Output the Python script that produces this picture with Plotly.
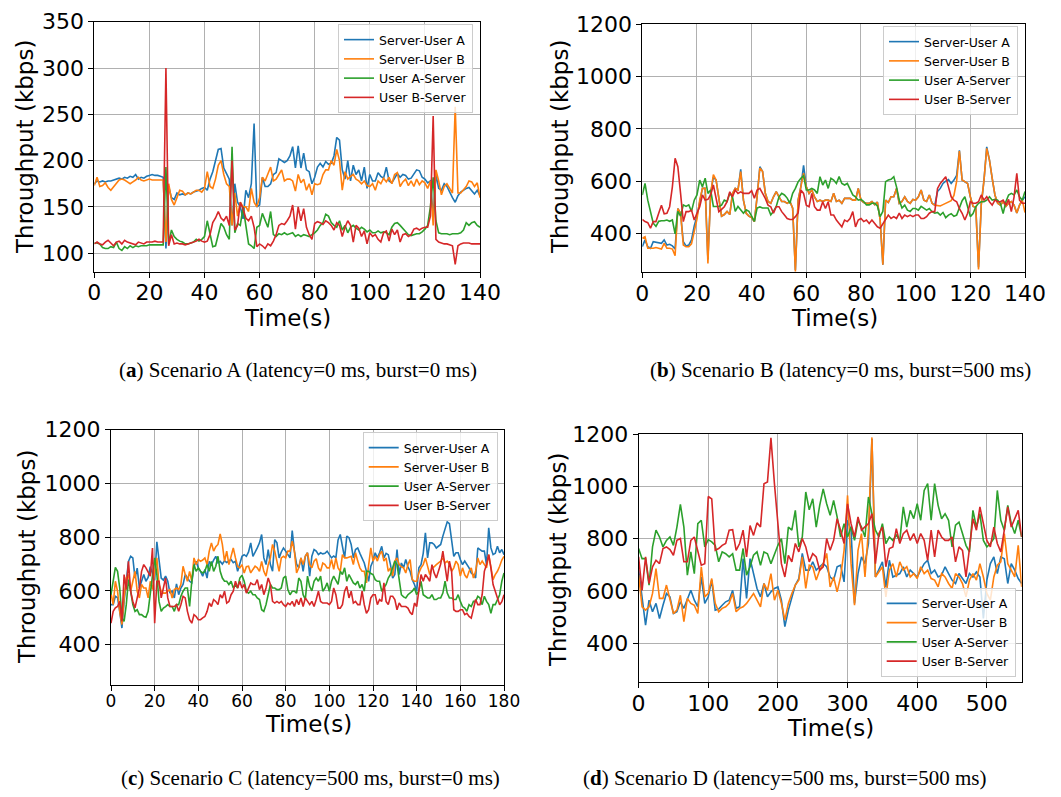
import plotly.graph_objects as go

# ---------------- data ----------------
SERIES_NAMES = ["Server-User A", "Server-User B", "User A-Server", "User B-Server"]
COLORS = ["#1f77b4", "#ff7f0e", "#2ca02c", "#d62728"]

# (a) Scenario A, 1 s samples 0..140
T_A = list(range(0, 141))
A_SUA = [175,178,177,178,177,178,178,179,180,181,
         180,182,181,183,182,185,180,182,181,183,
         184,185,184,184,183,182,105,172,160,158,
         165,163,164,163,165,164,166,167,168,170,
         171,168,180,188,200,212,213,192,186,180,
         130,175,155,150,137,168,160,175,240,150,
         152,182,172,172,175,185,187,202,200,198,
         200,205,215,192,216,192,208,190,188,175,
         182,193,197,193,199,196,197,205,225,222,
         190,180,200,178,195,185,190,178,193,170,
         185,178,178,187,183,181,193,178,176,181,
         186,182,185,184,180,181,186,190,189,182,
         180,176,178,140,185,170,168,175,172,165,
         160,155,162,166,168,170,171,168,164,168,
         162]
A_SUB = [173,182,172,173,176,171,168,172,175,179,
         180,179,177,175,177,179,182,179,178,179,
         180,179,179,179,179,179,112,175,158,152,
         160,168,167,163,165,164,166,168,168,166,
         170,188,172,170,180,195,200,185,175,172,
         130,165,140,155,150,150,145,170,155,150,
         160,182,178,185,193,178,180,185,190,178,
         180,180,178,167,185,176,180,168,175,163,
         175,174,175,185,190,190,200,195,212,200,
         168,188,180,183,185,180,178,175,178,173,
         172,175,168,178,175,181,177,182,175,185,
         187,172,177,180,173,178,172,180,174,178,
         176,170,178,130,190,178,163,172,175,170,
         165,258,165,165,168,172,178,177,172,176,
         160]
A_UAS = [111,111,110,106,105,105,107,106,112,105,
         103,107,105,108,106,108,107,108,108,108,
         109,109,109,109,109,109,193,110,125,118,
         115,113,112,110,110,111,112,115,113,115,
         118,135,120,107,108,120,132,128,120,115,
         215,122,132,130,150,130,110,108,105,128,
         130,143,135,128,145,120,118,121,120,122,
         120,121,122,118,120,118,120,119,118,120,
         122,125,130,133,142,140,133,130,128,135,
         125,130,122,128,130,127,125,128,126,123,
         125,122,122,124,122,123,122,120,128,132,
         133,130,127,123,120,119,120,121,121,123,
         126,130,150,182,135,122,121,121,121,120,
         121,121,121,122,125,133,130,133,134,130,
         128]
A_UBS = [110,112,110,109,112,114,111,108,112,113,
         110,114,112,111,110,109,112,111,110,112,
         112,112,113,112,112,112,300,108,120,110,
         111,110,110,109,110,111,112,113,115,113,
         112,113,120,133,138,145,138,135,140,130,
         200,125,130,155,148,138,135,140,128,107,
         110,108,105,110,108,113,120,130,132,131,
         135,140,152,126,150,135,148,128,120,115,
         132,134,133,131,135,133,130,125,133,130,
         118,128,135,130,112,130,127,118,124,110,
         122,118,120,115,112,122,124,113,126,120,
         125,112,120,121,118,120,126,127,125,127,
         128,128,140,248,115,112,111,110,110,109,
         108,88,108,110,111,111,111,110,110,110,
         110]

# (b) Scenario B, 1 s samples 0..140
T_B = list(range(0, 141))
B_SUA = [349,375,349,343,368,366,362,362,375,355,
         358,352,340,495,477,368,352,355,375,428,
         466,527,572,572,300,553,615,604,527,466,
         472,484,472,553,572,566,645,527,477,466,
         460,445,540,655,637,553,522,515,540,560,
         540,522,522,515,522,496,260,527,578,660,
         578,553,566,540,522,527,522,527,527,522,
         553,522,527,515,534,534,534,527,527,572,
         527,518,515,515,522,510,520,453,280,527,
         518,540,540,572,515,522,540,522,515,530,
         527,540,566,527,522,547,515,508,560,572,
         591,600,606,591,604,622,718,604,598,591,
         540,503,500,270,510,604,731,680,610,547,
         515,508,522,503,515,522,508,478,508,527,
         540]
B_SUB = [381,387,343,343,343,346,343,340,362,343,
         343,340,315,495,477,355,349,349,360,410,
         455,527,572,572,285,553,625,604,527,466,
         472,484,472,553,572,566,636,527,477,466,
         460,445,540,650,637,553,522,515,540,560,
         540,522,522,515,522,496,254,527,578,630,
         578,553,566,540,522,527,522,527,527,522,
         553,522,527,515,534,534,534,527,527,572,
         527,518,515,515,522,510,520,453,280,527,
         518,540,540,572,515,522,540,522,515,530,
         527,540,566,527,522,547,515,508,505,505,
         510,515,520,525,545,600,715,604,598,591,
         540,503,500,262,510,604,725,680,610,547,
         515,508,522,503,515,522,508,478,508,527,
         480]
B_UAS = [547,591,527,477,439,427,446,448,448,451,
         446,451,398,484,466,509,503,509,484,527,
         547,604,578,611,553,566,503,503,503,508,
         527,522,553,540,484,503,490,477,490,484,
         466,446,497,501,497,497,497,471,484,503,
         540,553,547,535,515,553,572,597,611,620,
         566,566,572,566,553,617,585,604,572,611,
         604,591,617,591,585,591,566,547,540,527,
         530,522,509,509,515,515,505,464,484,598,
         604,607,617,578,527,497,508,489,484,495,
         495,489,503,495,489,495,483,477,480,470,
         480,460,470,475,465,470,500,525,540,502,
         464,476,502,515,521,521,527,540,527,530,
         527,515,476,521,547,553,547,566,540,527,
         560]
B_UBS = [453,445,441,420,445,445,477,508,475,477,
         502,578,687,655,553,445,483,483,489,451,
         477,502,547,527,530,547,585,527,483,492,
         502,521,559,540,566,553,559,553,553,553,
         563,534,566,572,553,534,508,502,477,502,
         502,483,470,457,453,453,464,478,566,553,
         508,502,553,502,489,489,521,495,521,470,
         470,451,438,425,451,445,457,483,425,451,
         457,445,451,438,451,438,425,420,438,457,
         470,457,464,457,477,457,470,464,470,464,
         470,470,457,457,464,477,483,483,572,591,
         604,617,578,540,527,521,495,477,451,477,
         521,515,515,521,547,527,540,521,508,527,
         521,521,527,508,530,483,540,630,527,515,
         515]

# (c) Scenario C, 1 s samples 0..180
T_C = list(range(0, 181))
C_SUA = [549,549,580,575,524,462,560,640,710,729,
         723,648,685,611,636,661,636,650,690,660,
         640,783,723,648,640,655,636,592,600,574,
         626,586,611,624,661,650,636,630,692,710,
         686,673,655,680,648,710,698,715,729,705,
         710,700,712,706,710,717,705,710,673,700,
         729,735,729,745,779,729,748,760,779,810,
         723,698,754,698,673,791,779,723,745,760,
         748,735,723,825,748,700,686,723,673,729,
         742,655,729,754,748,735,742,738,740,748,
         735,723,730,723,790,810,766,723,804,798,
         773,723,754,760,740,723,704,673,636,692,
         711,742,723,742,766,723,740,735,698,648,
         661,754,661,704,686,717,690,673,642,624,
         599,686,698,740,816,723,779,779,773,760,
         766,773,804,835,857,850,779,729,742,742,
         717,698,711,698,686,667,660,648,760,754,
         748,748,698,835,760,735,740,766,742,754,
         735]
C_SUB = [592,549,636,599,524,475,574,648,661,599,
         636,673,599,574,624,611,611,574,636,605,
         673,723,624,599,592,592,599,605,574,605,
         611,605,624,692,661,636,673,636,723,698,
         717,710,715,723,698,748,779,748,765,773,
         812,773,710,748,698,729,760,723,692,686,
         698,667,690,692,667,680,692,686,673,710,
         673,655,698,723,773,748,710,673,723,729,
         723,748,748,785,748,667,686,723,698,729,
         742,698,686,711,720,686,673,704,698,686,
         686,717,680,723,686,673,735,723,723,725,
         729,698,742,711,686,673,673,630,686,760,
         711,729,711,735,748,711,723,673,686,655,
         711,723,698,690,686,667,698,717,642,636,
         636,667,686,698,723,686,661,686,690,698,
         704,711,723,704,711,700,673,686,711,698,
         655,686,660,648,673,686,648,673,723,698,
         711,700,686,735,680,642,661,673,692,715,
         729]
C_UAS = [586,636,688,673,611,500,487,549,642,599,
         549,524,530,512,512,505,502,524,592,642,
         723,661,561,524,536,542,549,542,542,524,
         549,549,580,599,611,611,542,636,698,673,
         686,673,667,673,698,673,710,673,692,729,
         673,648,636,636,624,636,611,624,611,648,
         658,636,599,592,599,586,586,574,568,530,
         524,549,586,624,611,611,605,605,611,648,
         655,605,586,599,599,592,648,636,586,568,
         655,617,600,636,648,636,655,599,611,630,
         599,636,655,640,624,673,661,686,636,661,
         642,630,624,636,611,624,599,673,673,665,
         661,642,636,636,599,610,624,648,661,686,
         711,698,636,586,578,574,586,592,599,611,
         586,600,636,586,580,574,574,586,568,568,
         574,574,592,636,592,574,574,568,568,586,
         561,542,536,524,549,542,561,561,580,574,
         549,580,561,549,517,549,549,568,586,636,
         667]
C_UBS = [480,524,537,542,561,487,661,605,710,599,
         561,537,574,611,673,698,686,673,655,760,
         480,636,636,574,611,648,574,542,542,542,
         549,524,549,580,574,524,493,480,512,505,
         493,493,500,505,524,555,542,568,561,549,
         586,574,599,555,561,586,599,636,611,636,
         611,624,592,611,630,624,624,642,605,624,
         586,611,648,624,561,555,561,555,561,549,
         542,555,549,561,542,568,549,574,542,574,
         561,549,561,542,568,599,561,555,555,555,
         549,561,611,586,536,536,549,599,617,574,
         599,555,561,549,549,599,549,517,530,574,
         586,586,549,568,561,630,561,549,580,580,
         568,530,555,542,542,542,536,520,512,555,
         542,611,661,636,661,650,636,698,667,648,
         673,700,748,698,636,711,673,530,524,524,
         530,530,512,517,505,499,530,568,549,549,
         586,673,698,735,686,624,599,574,549,560,
         586]

# (d) Scenario D, 5 s samples 0..550
T_D = list(range(0, 551, 5))
D_SUA = [680,577,469,564,520,552,494,545,590,577,
         513,520,558,533,564,602,564,539,653,552,
         577,641,526,530,545,558,564,602,533,539,
         723,571,723,666,609,577,628,577,596,609,
         615,564,463,526,577,622,647,743,679,679,
         711,679,692,704,692,653,641,692,698,634,
         870,832,552,666,730,704,781,1181,653,679,
         711,615,717,653,660,666,692,653,679,666,
         653,679,704,717,666,679,653,660,692,666,
         641,628,666,647,628,666,653,672,653,494,
         641,704,730,666,730,723,628,704,679,647,
         628]
D_SUB = [660,539,526,539,590,685,571,571,622,571,
         513,526,583,482,571,552,545,513,692,577,
         590,647,552,520,533,539,552,590,520,533,
         539,552,571,590,564,539,628,602,666,564,
         602,552,488,552,590,622,641,730,609,698,
         692,641,679,704,743,615,653,596,653,755,
         965,704,545,755,819,653,832,1187,653,672,
         692,577,679,704,653,711,679,692,653,666,
         647,692,666,679,647,641,615,666,653,628,
         609,666,653,628,577,641,666,641,704,653,
         590,564,653,698,711,819,704,679,653,774,
         615]
D_UAS = [762,723,723,622,768,832,806,768,793,806,
         774,844,931,844,660,749,666,857,870,768,
         796,787,774,711,749,742,730,742,679,679,
         762,660,692,736,749,698,749,742,704,742,
         774,800,704,844,832,908,768,806,978,910,
         952,844,927,990,933,889,946,883,806,857,
         806,844,793,870,844,806,959,895,832,806,
         857,781,806,793,813,793,921,844,908,876,
         933,870,984,1010,870,1010,927,876,895,870,
         768,851,863,819,774,749,908,844,895,793,
         768,781,800,984,870,832,927,857,819,870,
         806]
D_UBS = [730,602,730,628,692,717,704,762,768,758,
         736,793,800,711,711,793,806,749,698,704,
         961,952,755,762,774,781,832,834,755,781,
         832,730,850,812,860,844,1010,1016,1185,1010,
         857,704,653,736,711,781,749,800,768,711,
         742,730,679,692,800,755,793,876,832,781,
         933,857,806,883,832,844,857,895,704,819,
         844,692,762,768,838,781,819,832,793,819,
         781,819,793,717,832,730,832,806,793,793,
         806,711,768,755,653,762,876,832,921,857,
         793,768,844,781,749,832,921,844,876,908,
         806]

# tick values
XT_AB = [0, 20, 40, 60, 80, 100, 120, 140]
XT_C = [0, 20, 40, 60, 80, 100, 120, 140, 160, 180]
XT_D = [0, 100, 200, 300, 400, 500]
YT_A = [100, 150, 200, 250, 300, 350]
YT_BCD = [400, 600, 800, 1000, 1200]

CAPTIONS = [
    "(<b>a</b>) Scenario A (latency=0 ms, burst=0 ms)",
    "(<b>b</b>) Scenario B (latency=0 ms, burst=500 ms)",
    "(<b>c</b>) Scenario C (latency=500 ms, burst=0 ms)",
    "(<b>d</b>) Scenario D (latency=500 ms, burst=500 ms)",
]

# ---------------- layout helpers ----------------
W, H = 1061, 797
FONT = "DejaVu Sans"


def fx(px):
    return px / W


def fy(py):
    return 1 - py / H


panels = [
    dict(t=T_A, ys=[A_SUA, A_SUB, A_UAS, A_UBS], box=(94.3, 21.7, 480, 271.7),
         xr=[0, 140], yr=[80, 350], xt=XT_AB, yt=YT_A, xfs=22,
         legend=dict(x=fx(473), y=fy(24), xanchor="right", yanchor="top"),
         ytitle=(25, 147), xtitle=(287, 318), cap=(298, 370)),
    dict(t=T_B, ys=[B_SUA, B_SUB, B_UAS, B_UBS], box=(642.3, 24.3, 1025, 272.3),
         xr=[0, 140], yr=[251, 1200], xt=XT_AB, yt=YT_BCD, xfs=22,
         legend=dict(x=fx(1018), y=fy(26), xanchor="right", yanchor="top"),
         ytitle=(560, 147), xtitle=(834, 318), cap=(840, 370)),
    dict(t=T_C, ys=[C_SUA, C_SUB, C_UAS, C_UBS], box=(111, 429.7, 504, 685),
         xr=[0, 180], yr=[250, 1200], xt=XT_C, yt=YT_BCD, xfs=17,
         legend=dict(x=fx(497.7), y=fy(432), xanchor="right", yanchor="top"),
         ytitle=(27, 557), xtitle=(308, 724), cap=(310, 778)),
    dict(t=T_D, ys=[D_SUA, D_SUB, D_UAS, D_UBS], box=(638.6, 434, 1021.7, 682.3),
         xr=[0, 550], yr=[250, 1200], xt=XT_D, yt=YT_BCD, xfs=22,
         legend=dict(x=fx(1015.7), y=fy(676.7), xanchor="right", yanchor="bottom"),
         ytitle=(558, 560), xtitle=(830, 728), cap=(784, 778)),
]

fig = go.Figure()
layout = dict(
    width=W, height=H,
    margin=dict(l=0, r=0, t=0, b=0, pad=0, autoexpand=False),
    paper_bgcolor="white", plot_bgcolor="white",
    font=dict(family=FONT, color="black"),
    annotations=[],
)

for i, p in enumerate(panels):
    k = "" if i == 0 else str(i + 1)
    xa, ya = "x" + k, "y" + k
    lg = "legend" + k
    x0, y0, x1, y1 = p["box"]
    for name, col, vals in zip(SERIES_NAMES, COLORS, p["ys"]):
        fig.add_trace(go.Scatter(
            x=p["t"][:len(vals)], y=vals, mode="lines", name=name,
            line=dict(color=col, width=1.6), xaxis=xa, yaxis=ya,
            legend=lg, showlegend=True))
    common = dict(showline=True, linecolor="black", linewidth=1, mirror=True,
                  showgrid=True, gridcolor="#b0b0b0", gridwidth=1, zeroline=False,
                  ticks="outside", ticklen=5, tickwidth=1, tickcolor="black",
                  automargin=False)
    layout["xaxis" + k] = dict(domain=[fx(x0), fx(x1)], range=p["xr"], tickvals=p["xt"],
                               anchor=ya, ticklabelstandoff=-4,
                               tickfont=dict(size=p["xfs"], family=FONT, color="black"),
                               **common)
    layout["yaxis" + k] = dict(domain=[fy(y1), fy(y0)], range=p["yr"], tickvals=p["yt"],
                               anchor=xa, tickfont=dict(size=22, family=FONT, color="black"),
                               **common)
    layout[lg] = dict(bgcolor="rgba(255,255,255,0.8)", bordercolor="#cccccc", borderwidth=1,
                      font=dict(size=12.5, family=FONT, color="black"),
                      tracegroupgap=0, itemwidth=30, **p["legend"])
    tx, ty = p["ytitle"]
    layout["annotations"].append(dict(text="Throughput (kbps)", x=fx(tx), y=fy(ty), xref="paper",
                                      yref="paper", showarrow=False, textangle=-90,
                                      xanchor="center", yanchor="middle",
                                      font=dict(size=23, family=FONT, color="black")))
    tx, ty = p["xtitle"]
    layout["annotations"].append(dict(text="Time(s)", x=fx(tx), y=fy(ty), xref="paper",
                                      yref="paper", showarrow=False,
                                      xanchor="center", yanchor="middle",
                                      font=dict(size=23, family=FONT, color="black")))
    cx, cy = p["cap"]
    layout["annotations"].append(dict(text=CAPTIONS[i], x=fx(cx), y=fy(cy), xref="paper",
                                      yref="paper", showarrow=False,
                                      xanchor="center", yanchor="middle",
                                      font=dict(size=21, family="Liberation Serif", color="black")))

fig.update_layout(**layout)
fig.write_html("out.html", config={"displayModeBar": False},
               post_script="document.body.style.margin='0';document.body.style.padding='0';")
